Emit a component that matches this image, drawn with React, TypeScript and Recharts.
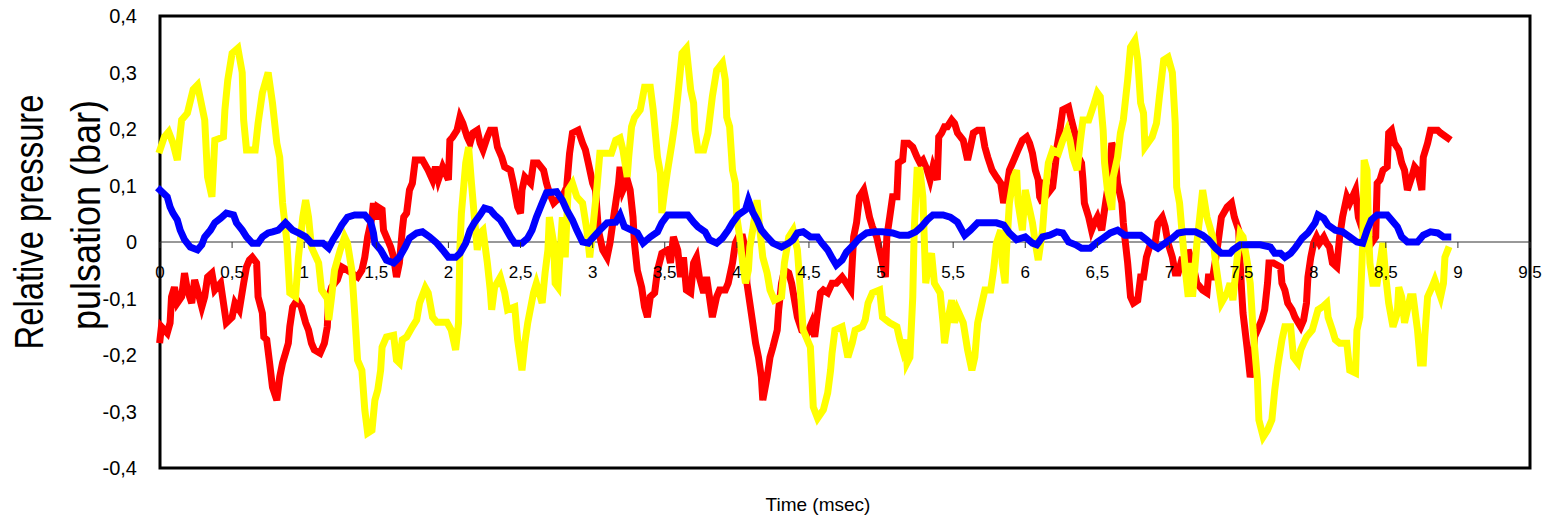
import React from 'react';
import { LineChart, Line, XAxis, YAxis, ReferenceLine, ReferenceArea, ReferenceDot } from 'recharts';

const FONT = '"Liberation Sans", Arial, sans-serif';

// [time (msec), relative pressure (bar)]
const yellowSeries: [number, number][] = [
  [0.00,0.163],[0.03,0.186],[0.06,0.195],[0.09,0.175],[0.12,0.145],[0.15,0.216],[0.19,0.228],[0.23,0.27],[0.26,0.278],[0.31,0.216],[0.33,0.115],[0.36,0.08],[0.38,0.18],[0.44,0.186],[0.45,0.234],[0.47,0.287],[0.50,0.334],[0.54,0.343],[0.57,0.30],[0.58,0.216],[0.60,0.163],[0.66,0.163],[0.68,0.21],[0.71,0.264],[0.75,0.30],[0.78,0.246],[0.81,0.175],[0.83,0.15],[0.85,0.069],[0.88,0.0],[0.90,-0.09],[0.94,-0.097],[0.96,-0.027],[0.99,0.044],[1.01,0.074],[1.03,0.044],[1.05,-0.009],[1.10,-0.037],[1.12,-0.085],[1.16,-0.10],[1.17,-0.138],[1.19,-0.097],[1.21,-0.05],[1.25,-0.014],[1.28,0.009],[1.30,-0.002],[1.33,-0.05],[1.35,-0.126],[1.37,-0.209],[1.40,-0.227],[1.42,-0.297],[1.44,-0.338],[1.47,-0.333],[1.49,-0.28],[1.51,-0.262],[1.53,-0.227],[1.54,-0.186],[1.57,-0.168],[1.62,-0.165],[1.64,-0.209],[1.66,-0.214],[1.68,-0.173],[1.71,-0.168],[1.75,-0.15],[1.78,-0.138],[1.80,-0.108],[1.84,-0.081],[1.86,-0.09],[1.89,-0.133],[1.92,-0.142],[1.99,-0.142],[2.02,-0.156],[2.05,-0.191],[2.07,-0.143],[2.08,-0.009],[2.09,0.051],[2.12,0.14],[2.14,0.168],[2.16,0.104],[2.18,0.044],[2.20,-0.014],[2.22,0.016],[2.24,0.021],[2.27,-0.037],[2.29,-0.085],[2.30,-0.12],[2.32,-0.08],[2.36,-0.062],[2.39,-0.09],[2.41,-0.12],[2.46,-0.115],[2.48,-0.173],[2.51,-0.227],[2.53,-0.179],[2.55,-0.143],[2.59,-0.09],[2.61,-0.073],[2.65,-0.108],[2.67,-0.055],[2.69,-0.014],[2.70,0.044],[2.73,-0.002],[2.74,-0.073],[2.76,-0.08],[2.79,0.044],[2.81,-0.027],[2.83,0.092],[2.86,0.104],[2.89,0.08],[2.93,0.069],[2.96,0.021],[2.98,-0.027],[3.00,0.021],[3.03,0.097],[3.05,0.157],[3.13,0.157],[3.16,0.18],[3.19,0.184],[3.21,0.163],[3.24,0.115],[3.25,0.15],[3.27,0.204],[3.29,0.22],[3.33,0.234],[3.36,0.274],[3.40,0.274],[3.42,0.234],[3.45,0.15],[3.47,0.122],[3.48,0.051],[3.50,0.092],[3.52,0.127],[3.55,0.175],[3.57,0.21],[3.59,0.257],[3.62,0.334],[3.65,0.343],[3.68,0.269],[3.70,0.246],[3.71,0.198],[3.73,0.163],[3.77,0.163],[3.80,0.193],[3.83,0.257],[3.86,0.304],[3.90,0.317],[3.92,0.287],[3.93,0.221],[3.95,0.204],[3.97,0.127],[3.99,0.104],[4.00,0.044],[4.02,0.009],[4.04,-0.037],[4.06,-0.073],[4.08,-0.05],[4.09,-0.009],[4.11,0.021],[4.14,0.074],[4.16,0.021],[4.18,-0.027],[4.21,-0.055],[4.23,-0.085],[4.26,-0.103],[4.31,-0.097],[4.33,-0.037],[4.36,0.009],[4.39,0.021],[4.42,-0.014],[4.44,-0.085],[4.46,-0.156],[4.51,-0.186],[4.53,-0.292],[4.56,-0.312],[4.60,-0.297],[4.63,-0.267],[4.65,-0.227],[4.66,-0.197],[4.68,-0.156],[4.73,-0.15],[4.77,-0.204],[4.80,-0.179],[4.82,-0.156],[4.87,-0.15],[4.89,-0.138],[4.91,-0.108],[4.94,-0.09],[4.99,-0.085],[5.01,-0.133],[5.06,-0.143],[5.11,-0.15],[5.13,-0.173],[5.15,-0.191],[5.17,-0.173],[5.18,-0.214],[5.20,-0.204],[5.22,-0.097],[5.23,0.021],[5.25,0.127],[5.27,0.127],[5.29,0.08],[5.31,-0.073],[5.33,-0.037],[5.35,-0.02],[5.37,-0.073],[5.41,-0.09],[5.43,-0.143],[5.44,-0.179],[5.46,-0.143],[5.49,-0.103],[5.51,-0.143],[5.53,-0.12],[5.57,-0.143],[5.60,-0.191],[5.63,-0.227],[5.65,-0.204],[5.67,-0.143],[5.70,-0.108],[5.72,-0.085],[5.76,-0.085],[5.78,-0.05],[5.80,-0.002],[5.83,0.021],[5.84,-0.037],[5.86,-0.073],[5.87,-0.014],[5.89,0.069],[5.92,0.115],[5.94,0.127],[5.95,0.069],[5.98,0.021],[6.00,0.092],[6.02,0.069],[6.05,0.034],[6.07,-0.002],[6.09,-0.032],[6.12,0.021],[6.14,0.092],[6.16,0.14],[6.19,0.163],[6.23,0.157],[6.26,0.18],[6.29,0.198],[6.31,0.18],[6.33,0.15],[6.36,0.127],[6.38,0.175],[6.40,0.216],[6.44,0.216],[6.47,0.239],[6.50,0.264],[6.52,0.257],[6.54,0.198],[6.55,0.14],[6.57,0.092],[6.60,0.057],[6.61,0.115],[6.64,0.15],[6.66,0.193],[6.68,0.216],[6.71,0.287],[6.73,0.345],[6.76,0.357],[6.78,0.322],[6.80,0.246],[6.82,0.228],[6.83,0.168],[6.88,0.186],[6.91,0.21],[6.93,0.257],[6.96,0.322],[6.99,0.327],[7.02,0.30],[7.04,0.21],[7.05,0.097],[7.07,0.069],[7.09,0.009],[7.11,-0.05],[7.13,-0.097],[7.14,-0.037],[7.16,-0.097],[7.19,-0.002],[7.21,0.044],[7.23,0.092],[7.26,0.044],[7.30,0.009],[7.32,-0.037],[7.34,-0.073],[7.36,-0.108],[7.40,-0.09],[7.42,-0.073],[7.44,-0.103],[7.47,-0.027],[7.49,0.016],[7.51,0.009],[7.54,-0.037],[7.56,-0.073],[7.58,-0.156],[7.61,-0.244],[7.62,-0.315],[7.65,-0.345],[7.68,-0.333],[7.71,-0.315],[7.73,-0.262],[7.75,-0.221],[7.78,-0.173],[7.80,-0.15],[7.84,-0.15],[7.86,-0.204],[7.89,-0.214],[7.91,-0.191],[7.93,-0.179],[7.95,-0.168],[7.99,-0.156],[8.01,-0.138],[8.03,-0.12],[8.06,-0.115],[8.09,-0.108],[8.10,-0.133],[8.13,-0.156],[8.15,-0.173],[8.18,-0.179],[8.23,-0.179],[8.25,-0.227],[8.29,-0.232],[8.30,-0.156],[8.32,-0.133],[8.34,-0.002],[8.35,0.145],[8.37,0.127],[8.38,0.021],[8.39,-0.037],[8.41,-0.073],[8.44,-0.073],[8.46,-0.037],[8.48,-0.002],[8.50,-0.062],[8.52,-0.108],[8.55,-0.15],[8.58,-0.126],[8.59,-0.08],[8.61,-0.097],[8.63,-0.143],[8.67,-0.097],[8.69,-0.097],[8.72,-0.156],[8.74,-0.214],[8.76,-0.214],[8.77,-0.168],[8.79,-0.097],[8.82,-0.08],[8.84,-0.067],[8.88,-0.097],[8.90,-0.073],[8.91,-0.027],[8.93,-0.014],
];

const redSeries: [number, number][] = [
  [0.00,-0.173],[0.01,-0.15],[0.05,-0.161],[0.07,-0.143],[0.08,-0.097],[0.10,-0.08],[0.12,-0.108],[0.15,-0.097],[0.17,-0.055],[0.19,-0.085],[0.22,-0.108],[0.24,-0.067],[0.26,-0.085],[0.29,-0.115],[0.31,-0.097],[0.33,-0.062],[0.36,-0.055],[0.38,-0.085],[0.42,-0.073],[0.44,-0.108],[0.46,-0.143],[0.50,-0.133],[0.52,-0.108],[0.55,-0.12],[0.58,-0.073],[0.60,-0.044],[0.62,-0.032],[0.64,-0.027],[0.67,-0.037],[0.68,-0.097],[0.71,-0.126],[0.72,-0.168],[0.74,-0.173],[0.76,-0.214],[0.78,-0.257],[0.81,-0.28],[0.83,-0.239],[0.85,-0.214],[0.87,-0.197],[0.89,-0.179],[0.90,-0.15],[0.92,-0.115],[0.95,-0.103],[0.98,-0.115],[1.01,-0.143],[1.03,-0.156],[1.05,-0.179],[1.07,-0.191],[1.11,-0.197],[1.14,-0.179],[1.16,-0.15],[1.17,-0.097],[1.19,-0.08],[1.23,-0.067],[1.26,-0.044],[1.30,-0.05],[1.33,-0.055],[1.37,-0.062],[1.40,-0.05],[1.42,-0.027],[1.44,0.009],[1.47,0.044],[1.48,0.069],[1.50,0.04],[1.51,0.062],[1.54,0.057],[1.55,0.021],[1.57,0.009],[1.60,-0.009],[1.62,-0.027],[1.64,-0.062],[1.66,-0.037],[1.68,0.021],[1.69,0.044],[1.71,0.051],[1.73,0.092],[1.75,0.104],[1.77,0.145],[1.82,0.145],[1.86,0.127],[1.89,0.11],[1.91,0.133],[1.93,0.11],[1.96,0.133],[2.00,0.11],[2.01,0.18],[2.03,0.186],[2.06,0.198],[2.08,0.221],[2.10,0.21],[2.13,0.186],[2.15,0.175],[2.17,0.193],[2.20,0.198],[2.22,0.175],[2.24,0.163],[2.27,0.186],[2.29,0.198],[2.32,0.198],[2.34,0.168],[2.37,0.15],[2.39,0.133],[2.43,0.127],[2.45,0.104],[2.48,0.062],[2.50,0.051],[2.51,0.092],[2.53,0.115],[2.57,0.104],[2.59,0.14],[2.62,0.14],[2.66,0.127],[2.68,0.104],[2.70,0.087],[2.73,0.069],[2.75,0.074],[2.79,0.08],[2.82,0.097],[2.84,0.157],[2.86,0.193],[2.90,0.198],[2.93,0.175],[2.95,0.163],[2.97,0.14],[3.00,0.104],[3.02,0.092],[3.04,0.021],[3.07,-0.014],[3.10,-0.027],[3.12,-0.002],[3.14,0.034],[3.16,0.069],[3.18,0.104],[3.19,0.133],[3.21,0.092],[3.24,0.11],[3.26,0.092],[3.28,0.044],[3.29,-0.002],[3.31,-0.05],[3.34,-0.08],[3.36,-0.115],[3.38,-0.133],[3.40,-0.097],[3.43,-0.09],[3.45,-0.05],[3.48,-0.02],[3.52,-0.014],[3.54,-0.037],[3.56,0.009],[3.59,-0.014],[3.61,-0.062],[3.63,-0.027],[3.65,-0.085],[3.68,-0.09],[3.70,-0.037],[3.72,-0.027],[3.74,-0.062],[3.77,-0.09],[3.79,-0.062],[3.81,-0.097],[3.83,-0.133],[3.86,-0.097],[3.88,-0.085],[3.92,-0.085],[3.94,-0.073],[3.97,-0.037],[3.99,-0.002],[4.01,0.009],[4.04,0.009],[4.06,-0.014],[4.07,-0.073],[4.09,-0.108],[4.11,-0.143],[4.13,-0.179],[4.15,-0.204],[4.17,-0.239],[4.18,-0.28],[4.21,-0.239],[4.23,-0.204],[4.25,-0.186],[4.28,-0.156],[4.29,-0.12],[4.31,-0.073],[4.33,-0.05],[4.36,-0.055],[4.38,-0.073],[4.40,-0.103],[4.42,-0.133],[4.45,-0.156],[4.49,-0.161],[4.52,-0.143],[4.54,-0.168],[4.56,-0.126],[4.58,-0.09],[4.60,-0.085],[4.63,-0.09],[4.66,-0.073],[4.69,-0.073],[4.73,-0.062],[4.76,-0.073],[4.79,-0.085],[4.80,-0.037],[4.81,0.009],[4.83,0.034],[4.85,0.08],[4.88,0.092],[4.90,0.069],[4.92,0.044],[4.94,0.027],[4.97,0.009],[4.99,-0.014],[5.01,-0.037],[5.03,-0.062],[5.04,0.009],[5.06,0.044],[5.08,0.08],[5.11,0.08],[5.12,0.14],[5.15,0.145],[5.16,0.175],[5.19,0.175],[5.22,0.168],[5.25,0.15],[5.27,0.14],[5.29,0.145],[5.32,0.127],[5.34,0.11],[5.36,0.133],[5.39,0.11],[5.40,0.186],[5.42,0.193],[5.44,0.204],[5.46,0.204],[5.49,0.216],[5.51,0.21],[5.53,0.193],[5.57,0.18],[5.60,0.145],[5.62,0.168],[5.64,0.193],[5.67,0.198],[5.70,0.198],[5.72,0.168],[5.74,0.15],[5.77,0.127],[5.80,0.115],[5.83,0.104],[5.85,0.069],[5.87,0.092],[5.89,0.127],[5.92,0.145],[5.95,0.163],[5.98,0.18],[6.01,0.186],[6.03,0.175],[6.05,0.157],[6.07,0.127],[6.09,0.11],[6.10,0.08],[6.12,0.069],[6.13,0.11],[6.16,0.087],[6.19,0.097],[6.21,0.14],[6.22,0.168],[6.24,0.198],[6.26,0.234],[6.30,0.239],[6.32,0.216],[6.35,0.186],[6.37,0.15],[6.39,0.14],[6.40,0.11],[6.41,0.069],[6.44,0.044],[6.46,0.021],[6.48,0.034],[6.50,0.044],[6.53,0.021],[6.55,0.057],[6.57,0.092],[6.59,0.14],[6.60,0.175],[6.62,0.163],[6.64,0.104],[6.67,0.069],[6.68,0.034],[6.69,0.009],[6.71,-0.037],[6.73,-0.097],[6.75,-0.108],[6.78,-0.103],[6.80,-0.062],[6.82,-0.062],[6.84,-0.027],[6.87,-0.002],[6.90,-0.002],[6.92,0.034],[6.95,0.044],[6.97,0.027],[6.99,-0.002],[7.02,-0.027],[7.04,-0.055],[7.06,-0.055],[7.09,-0.027],[7.11,-0.05],[7.13,-0.014],[7.16,-0.037],[7.19,-0.073],[7.23,-0.085],[7.26,-0.09],[7.27,-0.062],[7.30,-0.062],[7.33,-0.014],[7.36,0.044],[7.40,0.062],[7.43,0.069],[7.45,0.044],[7.48,0.021],[7.49,-0.037],[7.50,-0.085],[7.51,-0.126],[7.54,-0.191],[7.56,-0.239],[7.58,-0.221],[7.59,-0.168],[7.61,-0.156],[7.64,-0.138],[7.66,-0.12],[7.68,-0.073],[7.69,-0.037],[7.72,-0.037],[7.77,-0.044],[7.78,-0.073],[7.80,-0.085],[7.82,-0.108],[7.85,-0.12],[7.87,-0.133],[7.91,-0.15],[7.93,-0.138],[7.95,-0.108],[7.96,-0.062],[7.98,-0.027],[8.00,-0.002],[8.02,0.009],[8.04,-0.002],[8.07,0.009],[8.09,-0.002],[8.11,-0.009],[8.13,-0.037],[8.16,-0.044],[8.18,0.009],[8.20,0.044],[8.23,0.08],[8.25,0.069],[8.29,0.092],[8.31,0.044],[8.34,0.021],[8.36,0.021],[8.38,0.009],[8.40,-0.002],[8.43,0.009],[8.44,0.104],[8.46,0.11],[8.48,0.127],[8.51,0.133],[8.52,0.193],[8.54,0.198],[8.56,0.175],[8.59,0.163],[8.61,0.14],[8.63,0.127],[8.65,0.092],[8.68,0.115],[8.70,0.133],[8.72,0.127],[8.75,0.092],[8.76,0.15],[8.79,0.175],[8.81,0.198],[8.86,0.198],[8.88,0.193],[8.93,0.184],
];

const blueSeries: [number, number][] = [
  [0.00,0.092],[0.05,0.08],[0.07,0.062],[0.09,0.051],[0.12,0.039],[0.14,0.021],[0.17,0.004],[0.21,-0.009],[0.26,-0.014],[0.29,-0.005],[0.31,0.009],[0.35,0.021],[0.38,0.034],[0.42,0.042],[0.46,0.051],[0.51,0.048],[0.53,0.034],[0.57,0.021],[0.60,0.009],[0.64,-0.002],[0.68,-0.002],[0.71,0.009],[0.75,0.016],[0.78,0.018],[0.82,0.021],[0.87,0.034],[0.92,0.021],[0.96,0.016],[1.01,0.009],[1.05,-0.002],[1.10,-0.002],[1.13,-0.002],[1.17,-0.011],[1.20,0.004],[1.23,0.016],[1.26,0.03],[1.30,0.044],[1.35,0.048],[1.42,0.048],[1.46,0.036],[1.48,0.016],[1.49,-0.002],[1.53,-0.014],[1.57,-0.032],[1.62,-0.037],[1.66,-0.027],[1.70,-0.009],[1.73,0.007],[1.78,0.016],[1.82,0.018],[1.87,0.009],[1.92,-0.002],[1.96,-0.014],[2.00,-0.027],[2.05,-0.027],[2.08,-0.02],[2.12,-0.002],[2.15,0.021],[2.18,0.034],[2.22,0.048],[2.25,0.06],[2.29,0.057],[2.32,0.048],[2.36,0.039],[2.39,0.027],[2.43,0.009],[2.46,-0.002],[2.51,-0.002],[2.55,0.007],[2.58,0.021],[2.61,0.044],[2.65,0.069],[2.68,0.087],[2.75,0.089],[2.79,0.074],[2.82,0.057],[2.86,0.039],[2.89,0.021],[2.93,0],[2.97,-0.002],[3.00,0.007],[3.05,0.021],[3.10,0.034],[3.16,0.035],[3.19,0.048],[3.22,0.027],[3.27,0.021],[3.31,0.016],[3.35,-0.002],[3.40,0.009],[3.45,0.018],[3.48,0.034],[3.52,0.048],[3.59,0.048],[3.66,0.048],[3.70,0.035],[3.73,0.027],[3.78,0.018],[3.81,0.004],[3.86,-0.002],[3.90,0.007],[3.94,0.021],[3.97,0.034],[4.01,0.048],[4.06,0.057],[4.08,0.074],[4.11,0.053],[4.14,0.039],[4.17,0.021],[4.21,0.009],[4.25,-0.002],[4.31,-0.009],[4.36,-0.002],[4.39,0.004],[4.42,0.016],[4.46,0.018],[4.51,0.009],[4.56,0.009],[4.59,-0.002],[4.63,-0.014],[4.66,-0.028],[4.69,-0.041],[4.73,-0.032],[4.76,-0.018],[4.81,-0.005],[4.85,0.007],[4.90,0.016],[4.96,0.018],[5.01,0.018],[5.08,0.016],[5.13,0.012],[5.19,0.012],[5.24,0.018],[5.28,0.027],[5.32,0.039],[5.36,0.048],[5.43,0.048],[5.48,0.044],[5.53,0.035],[5.56,0.021],[5.58,0.012],[5.62,0.021],[5.67,0.034],[5.74,0.034],[5.80,0.034],[5.85,0.03],[5.89,0.016],[5.94,0.004],[6.00,0.009],[6.05,-0.002],[6.08,-0.005],[6.12,0.009],[6.17,0.012],[6.22,0.018],[6.26,0.016],[6.30,0],[6.35,-0.005],[6.39,-0.011],[6.45,-0.011],[6.50,0],[6.54,0.007],[6.59,0.016],[6.64,0.021],[6.69,0.012],[6.75,0.012],[6.80,0.012],[6.84,0.004],[6.88,-0.005],[6.92,-0.011],[6.97,-0.002],[7.02,0.007],[7.06,0.016],[7.11,0.018],[7.18,0.018],[7.23,0.012],[7.27,0.004],[7.32,-0.011],[7.36,-0.02],[7.42,-0.02],[7.44,-0.014],[7.49,-0.005],[7.56,-0.005],[7.63,-0.005],[7.70,-0.009],[7.73,-0.02],[7.77,-0.02],[7.80,-0.027],[7.84,-0.02],[7.87,-0.011],[7.92,0.007],[7.96,0.016],[8.01,0.034],[8.03,0.048],[8.07,0.042],[8.10,0.03],[8.15,0.021],[8.20,0.018],[8.25,0.009],[8.30,0],[8.34,-0.002],[8.37,0.021],[8.40,0.039],[8.44,0.048],[8.51,0.048],[8.54,0.039],[8.58,0.027],[8.61,0.009],[8.65,0],[8.72,0],[8.76,0.012],[8.81,0.018],[8.86,0.016],[8.90,0.009],[8.93,0.009],
];

const xTicks = [0, 0.5, 1, 1.5, 2, 2.5, 3, 3.5, 4, 4.5, 5, 5.5, 6, 6.5, 7, 7.5, 8, 8.5, 9, 9.5];
const yTicks = [-0.4, -0.3, -0.2, -0.1, 0, 0.1, 0.2, 0.3, 0.4];

const toRows = (s: [number, number][]) => s.map(([t, v]) => ({ t, v }));
const comma = (n: number) => String(n).replace('.', ',');

const lineProps = {
  dataKey: 'v',
  type: 'linear' as const,
  strokeWidth: 7,
  dot: false,
  isAnimationActive: false,
  strokeLinejoin: 'miter' as const,
  strokeLinecap: 'square' as const,
};

export default function App() {
  return (
    <div style={{ position: 'absolute', left: 0, top: 0, width: 1547, height: 516, background: '#fff', fontFamily: FONT }}>
      <LineChart width={1547} height={516} margin={{ top: 16, right: 17, bottom: 48, left: 100 }}>
        <XAxis type="number" dataKey="t" domain={[0, 9.5]} ticks={xTicks} hide />
        <YAxis
          type="number"
          domain={[-0.4, 0.4]}
          ticks={yTicks}
          width={60}
          axisLine={false}
          tickLine={false}
          tickSize={0}
          tickMargin={23}
          tickFormatter={comma}
          tick={{ fill: '#000', fontSize: 20, fontFamily: FONT }}
        />
        <ReferenceLine y={0} stroke="#333" strokeWidth={1} />
        {xTicks.map((t) => (
          <ReferenceDot
            key={t}
            x={t}
            y={0}
            r={0}
            shape={(p: any) => (
              <g>
                <line x1={p.cx} y1={p.cy} x2={p.cx} y2={p.cy + 6} stroke="#333" strokeWidth={1} />
                <text x={p.cx} y={p.cy + 36} textAnchor="middle" fontSize={17} fontFamily={FONT} fill="#000">
                  {comma(t)}
                </text>
              </g>
            )}
          />
        ))}
        <Line {...lineProps} data={toRows(redSeries)} stroke="#ff0000" />
        <Line {...lineProps} data={toRows(yellowSeries)} stroke="#ffff00" />
        <Line {...lineProps} data={toRows(blueSeries)} stroke="#0000ff" />
        <ReferenceArea x1={0} x2={9.5} y1={-0.4} y2={0.4} fill="none" fillOpacity={0} stroke="#000" strokeWidth={3} />
      </LineChart>
      <svg width={1547} height={516} style={{ position: 'absolute', left: 0, top: 0, pointerEvents: 'none' }}>
        <text transform="translate(43,222) rotate(-90)" textAnchor="middle" fontSize={40} fontFamily={FONT} textLength={255} lengthAdjust="spacingAndGlyphs" fill="#000">
          Relative pressure
        </text>
        <text transform="translate(100,215) rotate(-90)" textAnchor="middle" fontSize={40} fontFamily={FONT} textLength={230} lengthAdjust="spacingAndGlyphs" fill="#000">
          pulsation (bar)
        </text>
        <text x={818} y={511} textAnchor="middle" fontSize={19} fontFamily={FONT} fill="#000">
          Time (msec)
        </text>
      </svg>
    </div>
  );
}
